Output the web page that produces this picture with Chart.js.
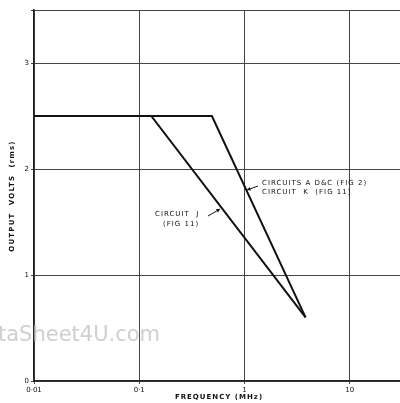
<!DOCTYPE html>
<html>
<head>
<meta charset="utf-8">
<script src="https://cdn.jsdelivr.net/npm/chart.js@4/dist/chart.umd.min.js"></script>
<style>
    body { margin: 0; background: #fff; }
    #wrap { width: 400px; height: 403px; position: relative; }
</style>
</head>
<body>
<div id="wrap"><canvas id="chart" width="400" height="403"></canvas></div>
<script>
// 曲線資料 (頻率 MHz / 輸出電壓 rms)
const freqJ = [0.01, 0.13, 3.8];
const voltsJ = [2.5, 2.5, 0.6];
const freqADC = [0.01, 0.49, 3.8];
const voltsADC = [2.5, 2.5, 0.6];

// 刻度
const xTicks = [0.01, 0.1, 1, 10];
const xTickLabels = ['0·01', '0·1', '1', '10'];
const yTicks = [0, 1, 2, 3, 3.5];
const yTickLabels = ['0', '1', '2', '3', ''];

const toPoints = (xs, ys) => xs.map((x, i) => ({ x: x, y: ys[i] }));

// 文字標註與軸標題
const annotations = {
    id: 'annotations',
    afterDraw(chart) {
        const ctx = chart.ctx;
        ctx.save();

        // 浮水印
        ctx.fillStyle = '#cfcfcf';
        ctx.font = '21px "DejaVu Sans"';
        ctx.textAlign = 'left';
        ctx.textBaseline = 'middle';
        ctx.fillText('taSheet4U.com', -2, 336);

        ctx.fillStyle = '#111';
        ctx.font = 'bold 7px "DejaVu Sans"';
        ctx.textBaseline = 'middle';

        // y 軸標題
        ctx.save();
        ctx.letterSpacing = '1.2px';
        ctx.translate(12, 196);
        ctx.rotate(-Math.PI / 2);
        ctx.textAlign = 'center';
        ctx.fillText('OUTPUT  VOLTS  (rms)', 0, 0);
        ctx.restore();

        // x 軸標題
        ctx.save();
        ctx.letterSpacing = '1px';
        ctx.textAlign = 'center';
        ctx.fillText('FREQUENCY (MHz)', 219, 397);
        ctx.restore();

        // 曲線說明
        ctx.save();
        ctx.letterSpacing = '1px';
        ctx.font = '7px "DejaVu Sans"';
        ctx.textAlign = 'left';
        ctx.fillText('CIRCUITS A D&C (FIG 2)', 262, 183);
        ctx.fillText('CIRCUIT  K  (FIG 11)', 262, 192);
        ctx.fillText('CIRCUIT  J', 155, 214);
        ctx.fillText('(FIG 11)', 163, 224);
        ctx.restore();

        // 指示箭頭
        ctx.strokeStyle = '#111';
        ctx.lineWidth = 1;
        const arrow = (x1, y1, x2, y2) => {
            ctx.beginPath();
            ctx.moveTo(x1, y1);
            ctx.lineTo(x2, y2);
            ctx.stroke();
            const a = Math.atan2(y2 - y1, x2 - x1);
            ctx.beginPath();
            ctx.moveTo(x2, y2);
            ctx.lineTo(x2 - 4 * Math.cos(a - 0.5), y2 - 4 * Math.sin(a - 0.5));
            ctx.lineTo(x2 - 4 * Math.cos(a + 0.5), y2 - 4 * Math.sin(a + 0.5));
            ctx.closePath();
            ctx.fill();
        };
        arrow(258, 186, 247, 190);
        arrow(208, 216, 220, 209);

        ctx.restore();
    }
};

new Chart(document.getElementById('chart'), {
    type: 'line',
    data: {
        datasets: [
            {
                label: 'Circuit J',
                data: toPoints(freqJ, voltsJ),
                borderColor: '#111',
                borderWidth: 2,
                pointRadius: 0,
                tension: 0
            },
            {
                label: 'Circuits A D&C / K',
                data: toPoints(freqADC, voltsADC),
                borderColor: '#111',
                borderWidth: 2,
                pointRadius: 0,
                tension: 0
            }
        ]
    },
    plugins: [annotations],
    options: {
        responsive: false,
        animation: false,
        devicePixelRatio: 1,
        layout: { padding: { top: 10, right: 0, left: 0, bottom: 0 } },
        plugins: {
            legend: { display: false },
            tooltip: { enabled: false }
        },
        scales: {
            x: {
                type: 'logarithmic',
                min: 0.01,
                max: 30,
                afterBuildTicks: scale => {
                    scale.ticks = xTicks.map(v => ({ value: v }));
                },
                afterFit: scale => { scale.height = 22; },
                ticks: {
                    autoSkip: false,
                    maxRotation: 0,
                    padding: 2,
                    color: '#111',
                    font: { family: 'DejaVu Sans', size: 7 },
                    callback: (value) => {
                        const i = xTicks.indexOf(value);
                        return i >= 0 ? xTickLabels[i] : '';
                    }
                },
                grid: { color: '#444', lineWidth: 1, tickLength: 3 },
                border: { color: '#222', width: 1.5 }
            },
            y: {
                min: 0,
                max: 3.5,
                afterBuildTicks: scale => {
                    scale.ticks = yTicks.map(v => ({ value: v }));
                },
                afterFit: scale => { scale.width = 34; },
                ticks: {
                    padding: 2,
                    color: '#111',
                    font: { family: 'DejaVu Sans', size: 7 },
                    callback: (value) => {
                        const i = yTicks.indexOf(value);
                        return i >= 0 ? yTickLabels[i] : '';
                    }
                },
                grid: { color: '#444', lineWidth: 1, tickLength: 3 },
                border: { color: '#222', width: 1.5 }
            }
        }
    }
});
</script>
</body>
</html>
